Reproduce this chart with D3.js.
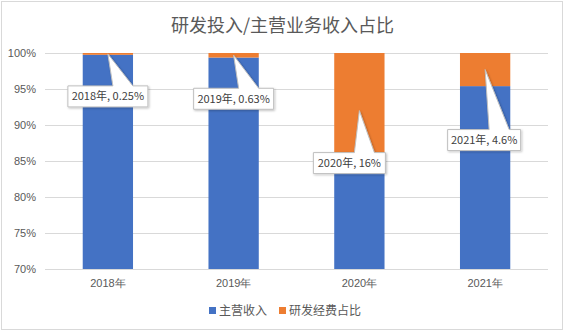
<!DOCTYPE html>
<html>
<head>
<meta charset="utf-8">
<script src="https://cdn.jsdelivr.net/npm/d3@7"></script>
<style>
  html, body { margin: 0; padding: 0; background: #fff; }
  svg { display: block; font-family: "Noto Sans CJK SC", "Noto Sans", sans-serif; }
</style>
</head>
<body>
<svg id="chart" width="565" height="332"></svg>
<script>
// Share of R&D spending in main business revenue, per year (percent)
const years = ["2018年", "2019年", "2020年", "2021年"];
const rdShare = [0.25, 0.63, 16, 4.6];
const mainShare = rdShare.map(v => 100 - v);
const rdLabels = ["0.25%", "0.63%", "16%", "4.6%"];
const yTicks = [70, 75, 80, 85, 90, 95, 100];
const seriesNames = ["主营收入", "研发经费占比"];
const seriesColors = ["#4472C4", "#ED7D31"];

// Callout placement relative to the middle of each orange segment
const calloutOffsets = [
  { dx: 0, dy: 32, w: 80 },
  { dx: 0, dy: 33, w: 80 },
  { dx: -10, dy: 42, w: 72 },
  { dx: -1, dy: 60, w: 73 }
];

const W = 565, H = 332;
const margin = { left: 45, right: 17, top: 53, bottom: 63 };
const svg = d3.select("#chart");

// chart frame
svg.append("rect")
  .attr("x", 1.5).attr("y", 1.5)
  .attr("width", W - 4).attr("height", H - 4)
  .attr("fill", "#fff").attr("stroke", "#d9d9d9");

const x = d3.scaleBand()
  .domain(years)
  .range([margin.left, W - margin.right])
  .paddingInner(0.6).paddingOuter(0.3);

const y = d3.scaleLinear()
  .domain([70, 100])
  .range([H - margin.bottom, margin.top]);

// title
svg.append("text")
  .attr("x", W / 2).attr("y", 32)
  .attr("text-anchor", "middle")
  .attr("font-size", 18)
  .attr("fill", "#595959")
  .text("研发投入/主营业务收入占比");

// gridlines
svg.append("g")
  .selectAll("line")
  .data(yTicks)
  .join("line")
  .attr("x1", margin.left).attr("x2", W - margin.right)
  .attr("y1", d => Math.round(y(d)) + 0.5).attr("y2", d => Math.round(y(d)) + 0.5)
  .attr("stroke", "#d9d9d9");

// y axis labels
const yAxis = d3.axisLeft(y).tickValues(yTicks).tickFormat(d => d + "%").tickSize(0).tickPadding(0);
const gy = svg.append("g").attr("transform", `translate(${margin.left - 9},0)`).call(yAxis);
gy.select(".domain").remove();
gy.selectAll("text").attr("font-size", 11).attr("fill", "#595959").attr("font-family", "inherit");

// stacked bars
const stacks = years.map((yr, i) => ({ yr, main: mainShare[i], rd: rdShare[i] }));
const g = svg.append("g");
g.selectAll("rect.main")
  .data(stacks)
  .join("rect")
  .attr("class", "main")
  .attr("x", d => x(d.yr))
  .attr("width", x.bandwidth())
  .attr("y", d => y(d.main))
  .attr("height", d => y(70) - y(d.main))
  .attr("fill", seriesColors[0]);
g.selectAll("rect.rd")
  .data(stacks)
  .join("rect")
  .attr("class", "rd")
  .attr("x", d => x(d.yr))
  .attr("width", x.bandwidth())
  .attr("y", d => y(100))
  .attr("height", d => y(d.main) - y(100))
  .attr("fill", seriesColors[1]);

// x axis
const xAxis = d3.axisBottom(x).tickSize(0).tickPadding(10);
const gx = svg.append("g").attr("transform", `translate(0,${y(70) + 0.5})`).call(xAxis);
gx.select(".domain").attr("stroke", "#d9d9d9").attr("d", `M${margin.left},0H${W - margin.right}`);
gx.selectAll("text").attr("font-size", 11).attr("fill", "#595959").attr("font-family", "inherit");

// callouts
const defs = svg.append("defs");
const f = defs.append("filter").attr("id", "shade").attr("x", "-20%").attr("y", "-20%").attr("width", "140%").attr("height", "160%");
f.append("feDropShadow").attr("dx", 1).attr("dy", 1).attr("stdDeviation", 1).attr("flood-color", "#000").attr("flood-opacity", 0.25);

const callouts = svg.append("g");
stacks.forEach((d, i) => {
  const o = calloutOffsets[i];
  const tipX = x(d.yr) + x.bandwidth() / 2;
  const tipY = y(100 - d.rd / 2);
  const cx = tipX + o.dx;
  const top = tipY + o.dy;
  const h = 21;
  const left = cx - o.w / 2, right = cx + o.w / 2;
  const b0 = cx + 5, b1 = Math.min(cx + 25, right - 2);
  const path = `M${left},${top}H${b0}L${tipX},${tipY}L${b1},${top}H${right}V${top + h}H${left}Z`;
  callouts.append("path")
    .attr("d", path)
    .attr("fill", "#fff")
    .attr("stroke", "#bfbfbf")
    .attr("stroke-width", 1)
    .attr("filter", "url(#shade)");
  callouts.append("text")
    .attr("x", cx).attr("y", top + h / 2 + 4)
    .attr("text-anchor", "middle")
    .attr("font-size", 11)
    .attr("fill", "#404040")
    .text(`${d.yr}, ${rdLabels[i]}`);
});

// legend
const legend = svg.append("g");
const legendX = [209, 279];
seriesNames.forEach((name, i) => {
  legend.append("rect")
    .attr("x", legendX[i]).attr("y", 307)
    .attr("width", 7).attr("height", 7)
    .attr("fill", seriesColors[i]);
  legend.append("text")
    .attr("x", legendX[i] + 10).attr("y", 315)
    .attr("font-size", 12)
    .attr("fill", "#595959")
    .text(name);
});
</script>
</body>
</html>
